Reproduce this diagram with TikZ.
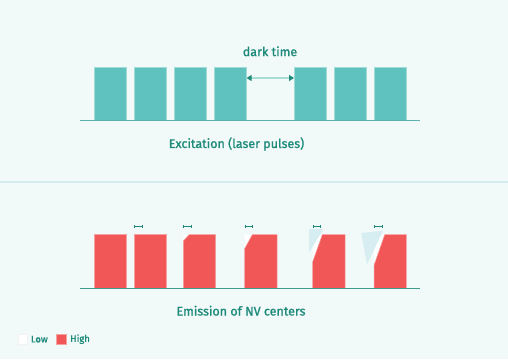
\documentclass[tikz,border=0pt]{standalone}
\usepackage{fontspec}
\setmainfont{Fira Sans}[FakeBold=1.2]
\usetikzlibrary{arrows.meta}
\definecolor{bg}{HTML}{F1F9F9}
\definecolor{sep}{HTML}{D3ECEF}
\definecolor{tealfill}{HTML}{60C2BF}
\definecolor{tealedge}{HTML}{A3DBD6}
\definecolor{tealline}{HTML}{5AB3AB}
\definecolor{tealdark}{HTML}{1E8A7A}
\definecolor{arrline}{HTML}{AADCD6}
\definecolor{redfill}{HTML}{F25757}
\definecolor{rededge}{HTML}{F7A1A1}
\definecolor{paleblue}{HTML}{D6EEF1}
\definecolor{baseline2}{HTML}{3D9C8A}
\tikzset{
  topbar/.style={draw=tealedge, fill=tealfill, line width=0.8pt, minimum width=31.5pt, minimum height=52.5pt, inner sep=0pt, anchor=north west},
  redbar/.style={draw=rededge, fill=redfill, line width=0.5pt},
  lowfill/.style={fill=white},
  bluetri/.style={fill=paleblue},
  lbl/.style={text=tealdark, font=\fontsize{12.5}{14}\selectfont, inner sep=0pt},
  leg/.style={text=tealdark, font=\fontsize{9.5}{11}\selectfont, anchor=west, inner sep=0pt},
  hmark/.style={draw=tealdark, line width=0.8pt, {Bar[width=3.5pt,line width=0.8pt]}-{Bar[width=3.5pt,line width=0.8pt]}},
}
\begin{document}
\begin{tikzpicture}[x=1pt,y=-1pt]
\useasboundingbox (0,0) rectangle (508,359);
\fill[bg] (0,0) rectangle (508,359);
\draw[sep, line width=2pt] (0,182.3) -- (508,182.3);

% top panel
\foreach \i/\x in {1/94.3,2/134,3/174.3,4/214.3,5/294,6/334,7/374.2}{
  \node[topbar] (t\i) at (\x,67.3) {};
}
\draw[tealline, line width=1.5pt] (80,120.5) -- (420,120.5);
\coordinate (da) at ([yshift=-10.7pt]t4.north east);
\coordinate (db) at ([yshift=-10.7pt]t5.north west);
\draw[arrline, line width=1.5pt, {Triangle[length=5pt,width=6pt,color=tealdark]}-{Triangle[length=5pt,width=6pt,color=tealdark]}] (da) -- (db);
\node[lbl] (dark) at (270,51.3) {dark time};
\node[lbl] (exc) at (236.5,144) {Excitation (laser pulses)};

% bottom panel
\def\top{234.7}
\def\bot{288.3}
% bar 1 and 2
\draw[redbar] (94.3,\top) rectangle (126.5,\bot);
\draw[redbar] (134,\top) rectangle (166.3,\bot);
% bar 3
\fill[lowfill] (183.3,\top) -- (189,\top) -- (183.3,241) -- cycle;
\draw[redbar] (189,\top) -- (215.7,\top) -- (215.7,\bot) -- (183.3,\bot) -- (183.3,241) -- cycle;
% bar 4
\fill[lowfill] (244.7,\top) -- (252.3,\top) -- (244.7,248.5) -- cycle;
\draw[redbar] (252.3,\top) -- (277,\top) -- (277,\bot) -- (244.7,\bot) -- (244.7,248.5) -- cycle;
% bar 5
\fill[lowfill] (312.6,\top) -- (322.3,\top) -- (312.6,262) -- cycle;
\fill[bluetri] (309,229) -- (323.5,229) -- (309,252.5) -- cycle;
\draw[redbar] (322.3,\top) -- (345,\top) -- (345,\bot) -- (312.6,\bot) -- (312.6,262) -- cycle;
% bar 6
\fill[lowfill] (374.2,\top) -- (384.7,\top) -- (374.2,264.7) -- cycle;
\fill[bluetri] (361.3,233) -- (383,230.7) -- (367,264.5) -- cycle;
\draw[redbar] (384.7,\top) -- (406.3,\top) -- (406.3,\bot) -- (374.2,\bot) -- (374.2,264.7) -- cycle;

\draw[baseline2, line width=1.2pt] (80,288.6) -- (420,288.6);

% interval markers
\foreach \a in {134,183.3,244.7,312.5,374.2}{
  \draw[hmark] (\a,226.7) -- ++(8.3,0);
}
\node[lbl] (emi) at (241,310.7) {Emission of NV centers};

% legend
\node[draw=white!90!gray, fill=white, line width=0.3pt, minimum width=9pt, minimum height=9.5pt, inner sep=0pt, anchor=north west] (lowsq) at (18.3,334.4) {};
\node[leg] (lowt) at (30.7,339.2) {Low};
\node[draw=rededge, fill=redfill, line width=0.3pt, minimum width=10pt, minimum height=9.5pt, inner sep=0pt, anchor=north west] (highsq) at (56,334.4) {};
\node[leg] (hight) at (70,339.2) {High};
\end{tikzpicture}
\end{document}
